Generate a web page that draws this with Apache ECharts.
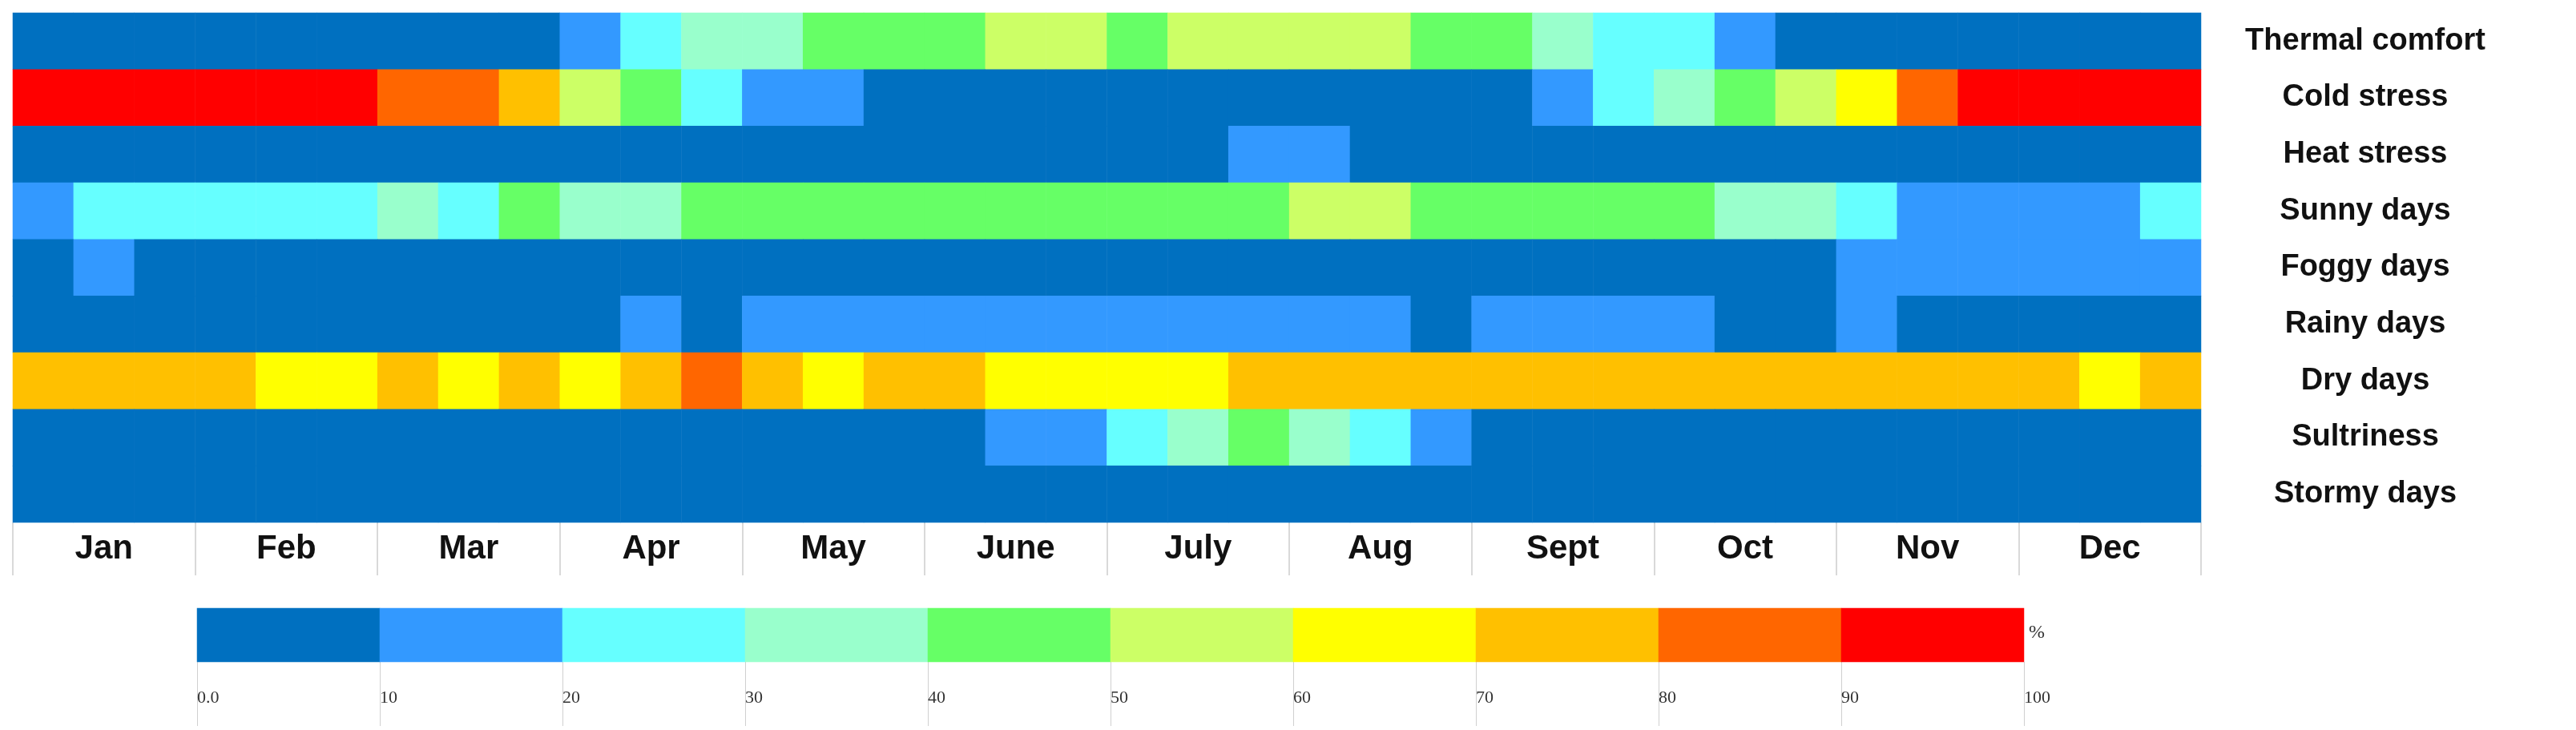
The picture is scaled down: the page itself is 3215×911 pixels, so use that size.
<!DOCTYPE html>
<html><head><meta charset="utf-8">
<script src="https://cdn.jsdelivr.net/npm/echarts@6/dist/echarts.min.js"></script>
<style>html,body{margin:0;padding:0;background:#fff}#c{width:3215px;height:911px}</style>
</head><body><div id="c"></div>
<script>
const months = ['Jan','Feb','Mar','Apr','May','June','July','Aug','Sept','Oct','Nov','Dec'];
const rows = ['Thermal comfort','Cold stress','Heat stress','Sunny days','Foggy days','Rainy days','Dry days','Sultriness','Stormy days'];
const dekads = Array.from({length:36}, (_, i) => months[Math.floor(i/3)] + ' ' + (i%3+1));
// values per dekad (%), 36 per row
const thermalComfort = [5,5,5,5,5,5,5,5,5,15,25,35,35,45,45,45,55,55,45,55,55,55,55,45,45,35,25,25,15,5,5,5,5,5,5,5];
const coldStress     = [95,95,95,95,95,95,85,85,75,55,45,25,15,15,5,5,5,5,5,5,5,5,5,5,5,15,25,35,45,55,65,85,95,95,95,95];
const heatStress     = [5,5,5,5,5,5,5,5,5,5,5,5,5,5,5,5,5,5,5,5,15,15,5,5,5,5,5,5,5,5,5,5,5,5,5,5];
const sunnyDays      = [15,25,25,25,25,25,35,25,45,35,35,45,45,45,45,45,45,45,45,45,45,55,55,45,45,45,45,45,35,35,25,15,15,15,15,25];
const foggyDays      = [5,15,5,5,5,5,5,5,5,5,5,5,5,5,5,5,5,5,5,5,5,5,5,5,5,5,5,5,5,5,15,15,15,15,15,15];
const rainyDays      = [5,5,5,5,5,5,5,5,5,5,15,5,15,15,15,15,15,15,15,15,15,15,15,5,15,15,15,15,5,5,15,5,5,5,5,5];
const dryDays        = [75,75,75,75,65,65,75,65,75,65,75,85,75,65,75,75,65,65,65,65,75,75,75,75,75,75,75,75,75,75,75,75,75,75,65,75];
const sultriness     = [5,5,5,5,5,5,5,5,5,5,5,5,5,5,5,5,15,15,25,35,45,35,25,15,5,5,5,5,5,5,5,5,5,5,5,5];
const stormyDays     = [5,5,5,5,5,5,5,5,5,5,5,5,5,5,5,5,5,5,5,5,5,5,5,5,5,5,5,5,5,5,5,5,5,5,5,5];
const legendValues = [5,15,25,35,45,55,65,75,85,95];
const legendBins = ['0-10','10-20','20-30','30-40','40-50','50-60','60-70','70-80','80-90','90-100'];

const allRows = [thermalComfort,coldStress,heatStress,sunnyDays,foggyDays,rainyDays,dryDays,sultriness,stormyDays];
const data = [];
allRows.forEach((r, y) => r.forEach((v, x) => data.push([x, y, v])));
const legendData = legendValues.map((v, i) => [i, 0, v]);

const colors = ['#0070C0','#3399FF','#66FFFF','#99FFCC','#66FF66','#CCFF66','#FFFF00','#FFC000','#FF6600','#FF0000'];
const chart = echarts.init(document.getElementById('c'));
chart.setOption({
  animation:false,
  grid:[
    {left:16, top:16, width:2731, height:636},
    {left:246, top:759, width:2280, height:67}
  ],
  xAxis:[
    {gridIndex:0, type:'category', data:dekads, show:false},
    {gridIndex:0, type:'category', data:months, position:'bottom', boundaryGap:true,
     axisLine:{show:false}, axisTick:{show:true, length:66, lineStyle:{color:'#d9d9d9', width:2}},
     axisLabel:{margin:12, fontFamily:'Liberation Sans', fontWeight:'bold', fontSize:42, color:'#111'}},
    {gridIndex:1, type:'category', data:legendBins, show:false},
    {gridIndex:1, type:'value', min:0, max:100, interval:10, position:'bottom',
     axisLine:{show:false}, splitLine:{show:false},
     axisTick:{show:true, length:80, lineStyle:{color:'#d0d0d0'}},
     axisLabel:{margin:34, fontFamily:'Liberation Sans Narrow', fontSize:22, color:'#333', align:'left',
       formatter:v => v === 0 ? '0.0' : String(v)}}
  ],
  yAxis:[
    {gridIndex:0, type:'category', data:rows, inverse:true, position:'right',
     axisLine:{show:false}, axisTick:{show:false},
     axisLabel:{margin:205, align:'center', fontFamily:'Liberation Sans', fontWeight:'bold', fontSize:38, color:'#111'}},
    {gridIndex:1, type:'category', data:['legend'], show:false}
  ],
  visualMap:{type:'piecewise', show:false, dimension:2, seriesIndex:[0,1],
    pieces:colors.map((c,i)=>({gte:i*10, lt:(i+1)*10, color:c}))},
  graphic:[{type:'text', left:2532, top:778, style:{text:'%', fontFamily:'Liberation Sans Narrow', fontSize:24, fill:'#333'}}],
  series:[
    {type:'heatmap', xAxisIndex:0, yAxisIndex:0, data:data, itemStyle:{borderWidth:0}},
    {type:'heatmap', xAxisIndex:2, yAxisIndex:1, data:legendData, itemStyle:{borderWidth:0}}
  ]
});
</script></body></html>
